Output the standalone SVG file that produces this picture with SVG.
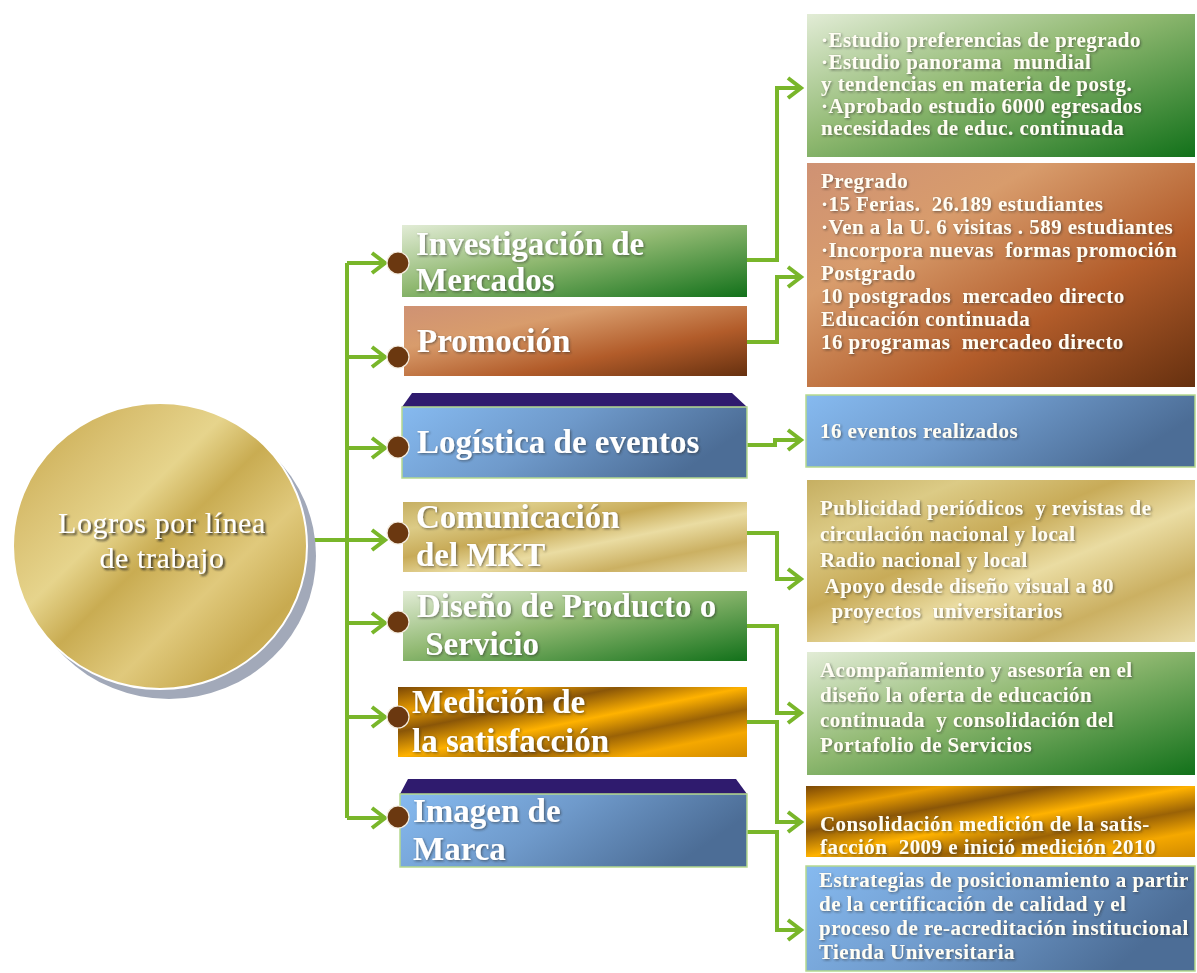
<svg xmlns="http://www.w3.org/2000/svg" width="1197" height="973" viewBox="0 0 1197 973">
<defs>
  <linearGradient id="gGreen" x1="0" y1="0" x2="1" y2="1">
    <stop offset="0" stop-color="#e2ecd6"/>
    <stop offset="0.45" stop-color="#8fb870"/>
    <stop offset="1" stop-color="#12711a"/>
  </linearGradient>
  <linearGradient id="gBrown" x1="0" y1="0" x2="1" y2="1">
    <stop offset="0" stop-color="#cf9274"/>
    <stop offset="0.3" stop-color="#d89c6c"/>
    <stop offset="0.65" stop-color="#b25c2a"/>
    <stop offset="1" stop-color="#66300f"/>
  </linearGradient>
  <linearGradient id="gBlue" x1="0" y1="0" x2="1" y2="0.3">
    <stop offset="0" stop-color="#86baf0"/>
    <stop offset="0.5" stop-color="#6f9acb"/>
    <stop offset="1" stop-color="#4c6d96"/>
  </linearGradient>
  <linearGradient id="gGold" x1="0" y1="0" x2="1" y2="1">
    <stop offset="0" stop-color="#c6af62"/>
    <stop offset="0.2" stop-color="#dccb86"/>
    <stop offset="0.4" stop-color="#c8ab58"/>
    <stop offset="0.58" stop-color="#eadca2"/>
    <stop offset="0.78" stop-color="#cbb062"/>
    <stop offset="1" stop-color="#e8dba6"/>
  </linearGradient>
  <linearGradient id="gOrange" x1="0" y1="0" x2="1" y2="1">
    <stop offset="0" stop-color="#7a4706"/>
    <stop offset="0.18" stop-color="#e89c00"/>
    <stop offset="0.32" stop-color="#8a5608"/>
    <stop offset="0.5" stop-color="#ffb200"/>
    <stop offset="0.66" stop-color="#9a6206"/>
    <stop offset="0.82" stop-color="#f5a800"/>
    <stop offset="1" stop-color="#d08a00"/>
  </linearGradient>
  <linearGradient id="gCircle" x1="0" y1="0" x2="1" y2="1">
    <stop offset="0" stop-color="#c4a445"/>
    <stop offset="0.22" stop-color="#d9c071"/>
    <stop offset="0.38" stop-color="#e6d48c"/>
    <stop offset="0.5" stop-color="#c9ac52"/>
    <stop offset="0.66" stop-color="#e0c97c"/>
    <stop offset="0.82" stop-color="#c8aa50"/>
    <stop offset="1" stop-color="#d6bd6c"/>
  </linearGradient>
  <filter id="ts" x="-5%" y="-20%" width="110%" height="140%">
    <feDropShadow dx="1.2" dy="1.2" stdDeviation="0.8" flood-color="#2a2a2a" flood-opacity="0.55"/>
  </filter>
  <filter id="tsC" x="-5%" y="-20%" width="110%" height="140%">
    <feDropShadow dx="2" dy="2" stdDeviation="0.8" flood-color="#1a1a1a" flood-opacity="0.85"/>
  </filter>
  <marker id="arr" viewBox="0 0 24 24" refX="18" refY="12" markerWidth="24" markerHeight="24" markerUnits="userSpaceOnUse" orient="auto">
    <path d="M5,2 L18,12 L5,22" fill="none" stroke="#79b62a" stroke-width="4"/>
  </marker>
  <style>
    .lbl { font-family: "Liberation Serif", "Times New Roman", serif; font-weight: bold; font-size: 33px; fill: #ffffff; filter: url(#ts); white-space: pre; }
    .txt { font-family: "Liberation Serif", "Times New Roman", serif; font-weight: bold; font-size: 21px; letter-spacing: 0.45px; fill: #fffdf4; filter: url(#ts); white-space: pre; }
    .ctr { font-family: "Liberation Serif", "Times New Roman", serif; font-size: 30px; letter-spacing: 0.6px; fill: #ffffff; filter: url(#tsC); }
    .con { fill: none; stroke: #79b62a; stroke-width: 4; }
    .dot { fill: #6b3810; stroke: #f4ede0; stroke-width: 1.2; }
    .bevel { fill: #2f1b6e; }
    .bb { stroke: #b5d98e; stroke-width: 1.5; }
  </style>
</defs>

<rect width="1197" height="973" fill="#ffffff"/>

<!-- connectors -->
<g id="connectors">
  <path class="con" d="M307,540 H347"/>
  <path class="con" d="M347,263 V818"/>
  <path class="con" d="M347,263 H385" marker-end="url(#arr)"/>
  <path class="con" d="M347,357 H385" marker-end="url(#arr)"/>
  <path class="con" d="M347,448 H385" marker-end="url(#arr)"/>
  <path class="con" d="M347,540 H385" marker-end="url(#arr)"/>
  <path class="con" d="M347,623 H385" marker-end="url(#arr)"/>
  <path class="con" d="M347,717 H385" marker-end="url(#arr)"/>
  <path class="con" d="M347,818 H385" marker-end="url(#arr)"/>
  <path class="con" d="M747,260 H777 V88 H801" marker-end="url(#arr)"/>
  <path class="con" d="M747,342 H777 V277 H801" marker-end="url(#arr)"/>
  <path class="con" d="M747,445 H775 V440 H801" marker-end="url(#arr)"/>
  <path class="con" d="M747,533 H777 V579 H801" marker-end="url(#arr)"/>
  <path class="con" d="M747,626 H777 V713 H801" marker-end="url(#arr)"/>
  <path class="con" d="M747,722 H777 V822 H801" marker-end="url(#arr)"/>
  <path class="con" d="M747,832 H777 V930 H801" marker-end="url(#arr)"/>
</g>

<!-- central node -->
<g id="center">
  <ellipse cx="169" cy="556" rx="147" ry="143" fill="#a2a9b9"/>
  <ellipse cx="160" cy="546" rx="147" ry="143" fill="url(#gCircle)" stroke="#ffffff" stroke-width="2"/>
  <text class="ctr" x="162" y="533" text-anchor="middle">Logros por línea</text>
  <text class="ctr" x="162" y="568" text-anchor="middle">de trabajo</text>
</g>

<!-- middle nodes -->
<g id="investigacion">
  <rect x="402" y="225" width="345" height="72" fill="url(#gGreen)"/>
  <text class="lbl" x="416" y="255">Investigación de</text>
  <text class="lbl" x="416" y="291">Mercados</text>
  <circle class="dot" cx="398" cy="263" r="11"/>
</g>
<g id="promocion">
  <rect x="404" y="306" width="343" height="70" fill="url(#gBrown)"/>
  <text class="lbl" x="417" y="352">Promoción</text>
  <circle class="dot" cx="398" cy="357" r="11"/>
</g>
<g id="logistica">
  <polygon class="bevel" points="412,393 732,393 747,407 402,407"/>
  <rect class="bb" x="402" y="407" width="345" height="71" fill="url(#gBlue)"/>
  <text class="lbl" x="417" y="453">Logística de eventos</text>
  <circle class="dot" cx="398" cy="447" r="11"/>
</g>
<g id="comunicacion">
  <rect x="403" y="502" width="344" height="70" fill="url(#gGold)"/>
  <text class="lbl" x="416" y="528">Comunicación</text>
  <text class="lbl" x="416" y="566">del MKT</text>
  <circle class="dot" cx="398" cy="533" r="11"/>
</g>
<g id="diseno">
  <rect x="403" y="591" width="344" height="70" fill="url(#gGreen)"/>
  <text class="lbl" x="417" y="617">Diseño de Producto o</text>
  <text class="lbl" x="417" y="655"> Servicio</text>
  <circle class="dot" cx="398" cy="622" r="11"/>
</g>
<g id="medicion">
  <rect x="398" y="687" width="349" height="70" fill="url(#gOrange)"/>
  <text class="lbl" x="412" y="713">Medición de</text>
  <text class="lbl" x="412" y="752">la satisfacción</text>
  <circle class="dot" cx="398" cy="717" r="11"/>
</g>
<g id="imagen">
  <polygon class="bevel" points="408,779 736,779 747,794 400,794"/>
  <rect class="bb" x="400" y="794" width="347" height="73" fill="url(#gBlue)"/>
  <text class="lbl" x="413" y="822">Imagen de</text>
  <text class="lbl" x="413" y="860">Marca</text>
  <circle class="dot" cx="398" cy="817" r="11"/>
</g>

<!-- right nodes -->
<g id="r-investigacion">
  <rect x="807" y="14" width="388" height="143" fill="url(#gGreen)"/>
  <text class="txt" x="821" y="47">·Estudio preferencias de pregrado</text>
  <text class="txt" x="821" y="69">·Estudio panorama  mundial</text>
  <text class="txt" x="821" y="91">y tendencias en materia de postg.</text>
  <text class="txt" x="821" y="113">·Aprobado estudio 6000 egresados</text>
  <text class="txt" x="821" y="135">necesidades de educ. continuada</text>
</g>
<g id="r-promocion">
  <rect x="807" y="163" width="388" height="224" fill="url(#gBrown)"/>
  <text class="txt" x="821" y="188">Pregrado</text>
  <text class="txt" x="821" y="211">·15 Ferias.  26.189 estudiantes</text>
  <text class="txt" x="821" y="234">·Ven a la U. 6 visitas . 589 estudiantes</text>
  <text class="txt" x="821" y="257">·Incorpora nuevas  formas promoción</text>
  <text class="txt" x="821" y="280">Postgrado</text>
  <text class="txt" x="821" y="303">10 postgrados  mercadeo directo</text>
  <text class="txt" x="821" y="326">Educación continuada</text>
  <text class="txt" x="821" y="349">16 programas  mercadeo directo</text>
</g>
<g id="r-logistica">
  <rect class="bb" x="806" y="395" width="389" height="72" fill="url(#gBlue)"/>
  <text class="txt" x="820" y="438">16 eventos realizados</text>
</g>
<g id="r-comunicacion">
  <rect x="807" y="480" width="388" height="162" fill="url(#gGold)"/>
  <text class="txt" x="820" y="515">Publicidad periódicos  y revistas de</text>
  <text class="txt" x="820" y="541">circulación nacional y local</text>
  <text class="txt" x="820" y="567">Radio nacional y local</text>
  <text class="txt" x="820" y="593"> Apoyo desde diseño visual a 80</text>
  <text class="txt" x="820" y="618">  proyectos  universitarios</text>
</g>
<g id="r-diseno">
  <rect x="807" y="652" width="388" height="123" fill="url(#gGreen)"/>
  <text class="txt" x="820" y="677">Acompañamiento y asesoría en el</text>
  <text class="txt" x="820" y="702">diseño la oferta de educación</text>
  <text class="txt" x="820" y="727">continuada  y consolidación del</text>
  <text class="txt" x="820" y="752">Portafolio de Servicios</text>
</g>
<g id="r-medicion">
  <rect x="806" y="786" width="389" height="71" fill="url(#gOrange)"/>
  <text class="txt" x="820" y="831">Consolidación medición de la satis-</text>
  <text class="txt" x="820" y="854">facción  2009 e inició medición 2010</text>
</g>
<g id="r-imagen">
  <rect class="bb" x="806" y="866" width="389" height="105" fill="url(#gBlue)"/>
  <text class="txt" x="819" y="887">Estrategias de posicionamiento a partir</text>
  <text class="txt" x="819" y="911">de la certificación de calidad y el</text>
  <text class="txt" x="819" y="935">proceso de re-acreditación institucional</text>
  <text class="txt" x="819" y="959">Tienda Universitaria</text>
</g>
</svg>
